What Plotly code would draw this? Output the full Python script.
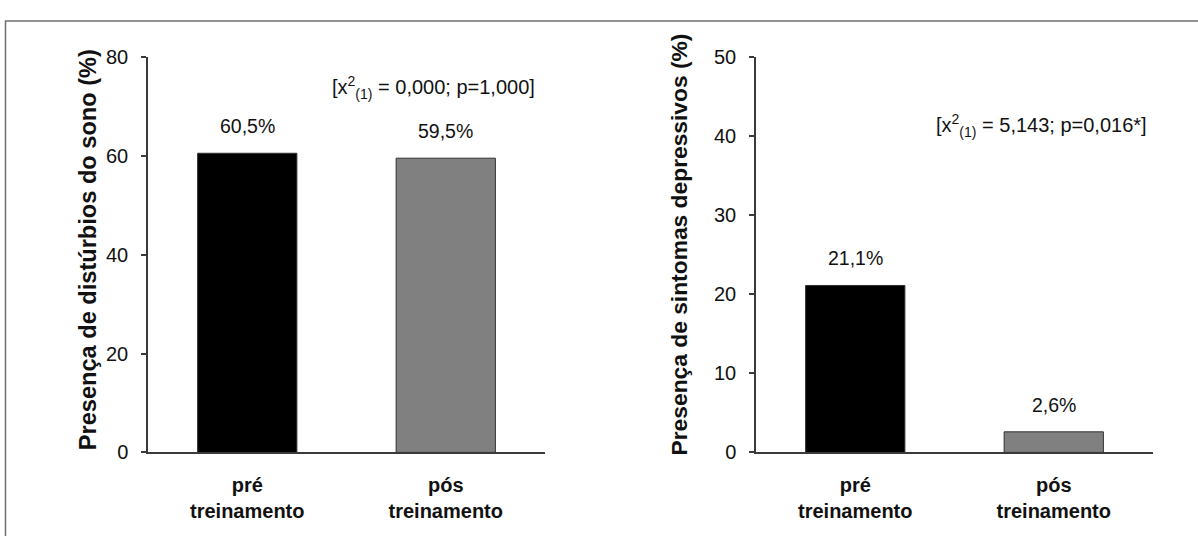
import plotly.graph_objects as go

categories = ["pré<br>treinamento", "pós<br>treinamento"]
sono_values = [60.5, 59.5]
sono_labels = ["60,5%", "59,5%"]
depr_values = [21.1, 2.6]
depr_labels = ["21,1%", "2,6%"]
bar_colors = ["#000000", "#808080"]
sono_ticks = [0, 20, 40, 60, 80]
depr_ticks = [0, 10, 20, 30, 40, 50]
sono_title = "Presença de distúrbios do sono (%)"
depr_title = "Presença de sintomas depressivos (%)"
sono_stat = "[x<sup>2</sup><sub>(1)</sub> = 0,000; p=1,000]"
depr_stat = "[x<sup>2</sup><sub>(1)</sub> = 5,143; p=0,016*]"

FONT = "Liberation Sans, Arial, sans-serif"
W, H = 1198, 536
AX = "#3a3a3a"
TXT = "#111111"

fig = go.Figure()
fig.add_trace(go.Bar(x=categories, y=sono_values, marker=dict(color=bar_colors, line=dict(color="#303030", width=1)),
                     width=0.5, xaxis="x", yaxis="y", showlegend=False, hoverinfo="skip"))
fig.add_trace(go.Bar(x=categories, y=depr_values, marker=dict(color=bar_colors, line=dict(color="#303030", width=1)),
                     width=0.5, xaxis="x2", yaxis="y2", showlegend=False, hoverinfo="skip"))

ydom = [1 - 460.3 / H, 1 - 47.8 / H]
common_x = dict(type="category", range=[-0.5, 1.5], showline=True, linecolor=AX, linewidth=1.5,
                ticks="", showgrid=False, zeroline=False,
                tickfont=dict(family=FONT, size=20, color=TXT, weight="bold"), ticklabelstandoff=14)
common_y = dict(showline=True, linecolor=AX, linewidth=1.5, ticks="outside", ticklen=5, tickcolor=AX,
                tickwidth=1.5, showgrid=False, zeroline=False,
                tickfont=dict(family=FONT, size=20, color=TXT), ticklabelstandoff=9)

fig.update_layout(
    width=W, height=H, margin=dict(l=0, r=0, t=0, b=0),
    paper_bgcolor="white", plot_bgcolor="white", bargap=0.5,
    xaxis=dict(domain=[148 / W, 545 / W], anchor="y", **common_x),
    yaxis=dict(domain=ydom, anchor="x", range=[0, 80], tickvals=sono_ticks, **common_y),
    xaxis2=dict(domain=[756 / W, 1153 / W], anchor="y2", **common_x),
    yaxis2=dict(domain=ydom, anchor="x2", range=[0, 50], tickvals=depr_ticks, **common_y),
)

anns = []
for c, v, t in zip(categories, sono_values, sono_labels):
    anns.append(dict(x=c, y=v, xref="x", yref="y", text=t, showarrow=False, yanchor="bottom", yshift=14,
                     font=dict(family=FONT, size=19.5, color=TXT)))
for c, v, t in zip(categories, depr_values, depr_labels):
    anns.append(dict(x=c, y=v, xref="x2", yref="y2", text=t, showarrow=False, yanchor="bottom", yshift=14,
                     font=dict(family=FONT, size=19.5, color=TXT)))
anns.append(dict(x=330 / W, y=1 - 63 / H, xref="paper", yref="paper", text=sono_stat, showarrow=False,
                 xanchor="left", font=dict(family=FONT, size=20, color=TXT)))
anns.append(dict(x=934 / W, y=1 - 102 / H, xref="paper", yref="paper", text=depr_stat, showarrow=False,
                 xanchor="left", font=dict(family=FONT, size=20, color=TXT)))
anns.append(dict(x=72.5 / W, y=1 - 249 / H, xref="paper", yref="paper", text="<b>" + sono_title + "</b>",
                 textangle=-90, showarrow=False, font=dict(family=FONT, size=23.6, color=TXT)))
anns.append(dict(x=678.5 / W, y=1 - 244 / H, xref="paper", yref="paper", text="<b>" + depr_title + "</b>",
                 textangle=-90, showarrow=False, font=dict(family=FONT, size=22.8, color=TXT)))
fig.update_layout(annotations=anns)

fig.add_shape(type="rect", xref="paper", yref="paper", x0=5.5 / W, x1=1.02, y0=-0.05, y1=1 - 10.5 / H,
              line=dict(color="#707070", width=1.5), fillcolor="rgba(0,0,0,0)", layer="below")

fig.write_html("out.html", config={"displayModeBar": False},
               post_script="document.body.style.margin='0';document.body.style.overflow='hidden';")
